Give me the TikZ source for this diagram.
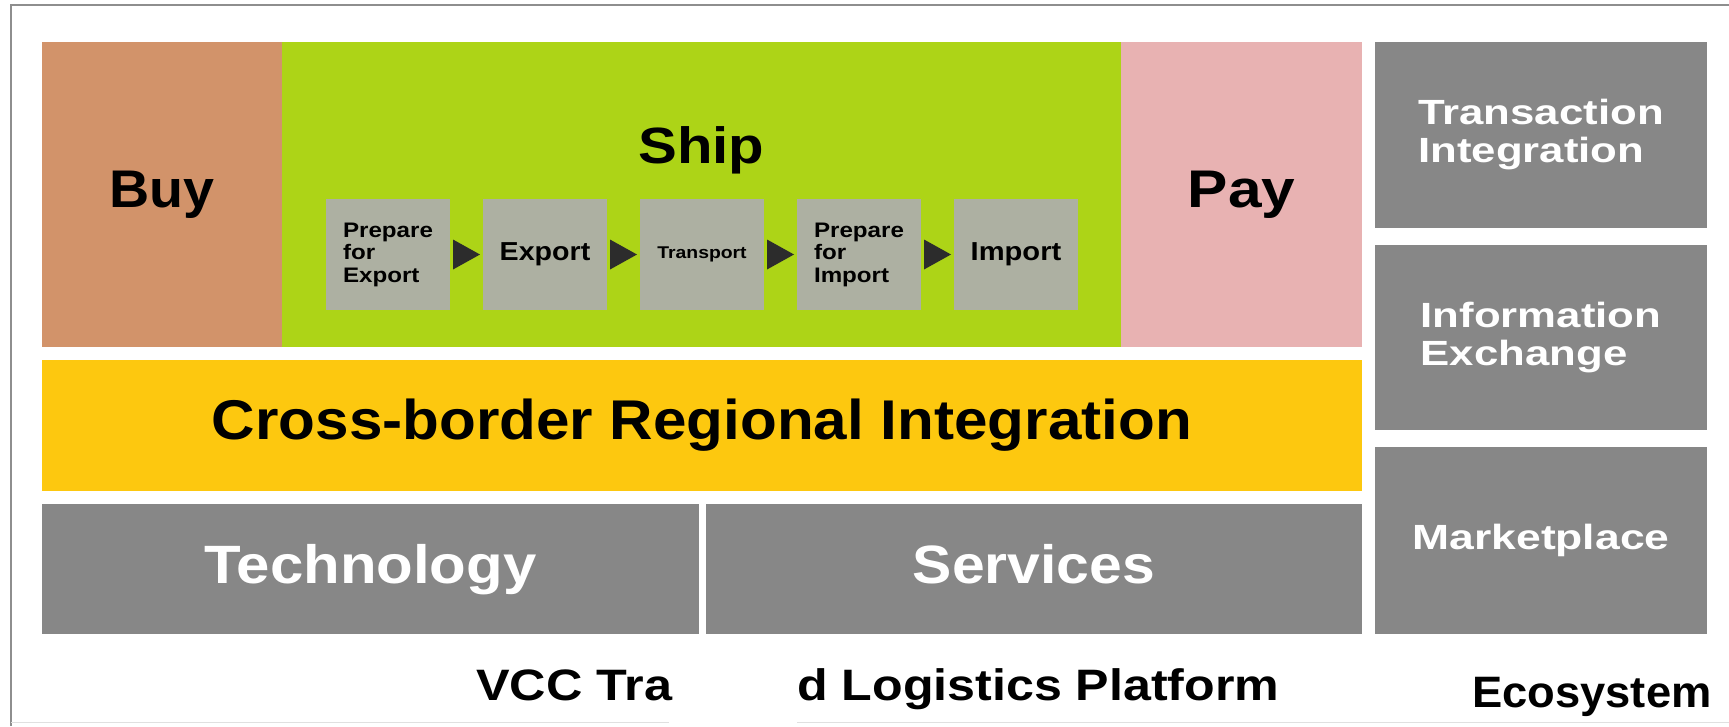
\documentclass[tikz,border=0pt]{standalone}
\usepackage{fontspec}
\setmainfont{Liberation Sans}
\usepackage{graphicx}
\usetikzlibrary{calc}
\definecolor{buyc}{HTML}{D2936A}
\definecolor{shipc}{HTML}{ADD417}
\definecolor{payc}{HTML}{E8B2B2}
\definecolor{yelc}{HTML}{FDC80F}
\definecolor{grayc}{HTML}{878787}
\definecolor{procc}{HTML}{ADB0A2}
\definecolor{arrc}{HTML}{2C2C2C}
\definecolor{framec}{HTML}{8E8E8E}
\newcommand\wide[2]{\scalebox{#1}[1]{#2}}
\newcommand\fs[2]{\fontsize{#1}{#2}\selectfont\bfseries}
\begin{document}
\begin{tikzpicture}[x=1pt,y=-1pt,
  blk/.style={draw=none, inner sep=0pt, outer sep=0pt, anchor=north west},
  colbox/.style={blk, font=\fs{53}{60}, text=black},
  proc/.style={blk, fill=procc, minimum width=124, minimum height=111, align=left, text=black},
  eco/.style={blk, fill=grayc, minimum width=332, align=left, text=white, font=\fs{35}{38}},
  base/.style={blk, fill=grayc, minimum height=130, text=white, font=\fs{54}{60}, text depth=11, text height=39},
  caption/.style={inner sep=0pt, anchor=base west, font=\fs{44}{50}, text=black},
  flow/.style={fill=arrc}
]
\useasboundingbox (0,0) rectangle (1729,726);
% frame
\draw[framec, line width=2] (11,726) -- (11,4.5) -- (1729,4.5);
\draw[black!12, line width=1] (11,722) -- (669,722);
\draw[black!12, line width=1] (797,722) -- (1729,722);
% top row
\node[colbox, fill=buyc, minimum width=240, minimum height=305] (buy) at (42,42) {\wide{1.05}{Buy}};
\node[blk, fill=shipc, minimum width=839, minimum height=305] (ship) at (282,42) {};
\node[colbox, fill=payc, minimum width=241, minimum height=305] (pay) at (1121,42) {\wide{1.14}{Pay}};
\node[inner sep=0pt, anchor=base, font=\fs{51}{60}] (shiplbl) at (701.5,163) {\wide{1.14}{Ship}};
% process steps
\node[proc, font=\fs{21}{22.5}] (p1) at (326,199) {\wide{1.15}{Prepare}\\\wide{1.15}{for}\\\wide{1.15}{Export}};
\node[proc, font=\fs{26}{30}] (p2) at (483,199) {\wide{1.1}{Export}};
\node[proc, font=\fs{17}{20}] (p3) at (640,199) {\wide{1.14}{Transport}};
\node[proc, font=\fs{21}{22.5}] (p4) at (797,199) {\wide{1.15}{Prepare}\\\wide{1.15}{for}\\\wide{1.15}{Import}};
\node[proc, font=\fs{26}{30}] (p5) at (954,199) {\wide{1.12}{Import}};
\foreach \a/\b in {p1/p2,p2/p3,p3/p4,p4/p5}{
  \fill[flow] ($(\a.east)+(3,-15)$) -- ($(\b.west)+(-3,0)$) -- ($(\a.east)+(3,15)$) -- cycle;
}
% integration band
\node[blk, fill=yelc, minimum width=1320, minimum height=131, font=\fs{56}{60}, text=black] (cross) at (42,360) {\wide{1.075}{Cross-border Regional Integration}};
% base row
\node[base, minimum width=657] (tech) at (42,504) {\wide{1.11}{Technology}};
\node[base, minimum width=656] (serv) at (706,504) {\wide{1.09}{Services}};
% ecosystem column
\node[eco, minimum height=186] (trans) at (1375,42) {\wide{1.25}{Transaction}\\\wide{1.25}{Integration}};
\node[eco, minimum height=185] (info) at (1375,245) {\wide{1.25}{Information}\\\wide{1.25}{Exchange}};
\node[eco, minimum height=187] (market) at (1375,447) {\wide{1.27}{Marketplace}};
% captions
\node[caption] (cap1) at (476,700) {\wide{1.145}{VCC Tra}};
\node[caption] (cap2) at (797,700) {\wide{1.14}{d Logistics Platform}};
\node[caption] (cap3) at (1472,707) {\wide{1.03}{Ecosystem}};
\end{tikzpicture}
\end{document}
